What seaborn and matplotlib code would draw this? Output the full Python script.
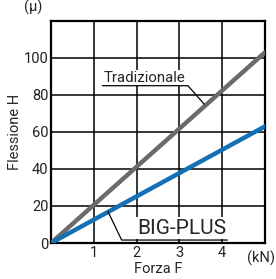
import pandas as pd
import seaborn as sns
import matplotlib.pyplot as plt

# Dati
forza = [0, 5]
tradizionale = [0, 103]
big_plus = [0, 63]
x_ticks = [1, 2, 3, 4]
y_ticks = [0, 20, 40, 60, 80, 100]

df = pd.DataFrame({
    'Forza': forza * 2,
    'Flessione': tradizionale + big_plus,
    'Tipo': ['Tradizionale'] * 2 + ['BIG-PLUS'] * 2,
})

sns.set_style('white')
plt.rcParams['font.family'] = ['Roboto', 'DejaVu Sans']

fig = plt.figure(figsize=(2.76, 2.79), dpi=100)
ax = fig.add_axes([0.185, 0.129, 0.775, 0.796])

sns.lineplot(data=df, x='Forza', y='Flessione', hue='Tipo',
             palette={'Tradizionale': '#6b6b6b', 'BIG-PLUS': '#1370b5'},
             linewidth=3.2, legend=False, ax=ax, zorder=3)

ax.set_xlim(0, 5)
ax.set_ylim(0, 120)
ax.set_xticks(x_ticks)
ax.set_yticks(y_ticks)
ax.grid(True, color='black', linewidth=1.1)
ax.set_axisbelow(True)
ax.tick_params(length=0, labelsize=10.5, pad=2, colors='#222222')
for s in ax.spines.values():
    s.set_color('black')
    s.set_linewidth(1.6)

ax.set_xlabel('Forza F', fontsize=10.5, labelpad=1.5)
ax.set_ylabel('Flessione H', fontsize=10.5, labelpad=1)
ax.text(-0.42, 123, '(μ)', fontsize=10.5, ha='center', va='bottom', clip_on=False)
ax.text(4.9, -4, '(kN)', fontsize=10.5, ha='center', va='top', clip_on=False)

# Etichette con linea di richiamo
ax.text(1.23, 87, 'Tradizionale', fontsize=10.8, ha='left', va='baseline', zorder=4,
        bbox=dict(facecolor='white', edgecolor='none', pad=1))
ax.plot([1.2, 3.2, 3.58], [85, 85, 75], color='black', linewidth=0.9, zorder=4)

ax.text(2.02, 4.9, 'BIG-PLUS', fontsize=15, ha='left', va='baseline', zorder=4,
        bbox=dict(facecolor='white', edgecolor='none', pad=1))
ax.plot([1.33, 1.65, 4.12], [17, 1.6, 1.6], color='black', linewidth=0.9, zorder=4)

fig.savefig('out.png', dpi=100)
